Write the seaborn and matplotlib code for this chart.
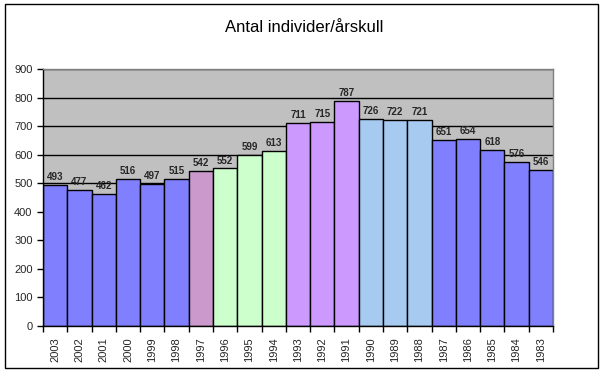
import numpy as np
import pandas as pd
import matplotlib
matplotlib.use('Agg')
import matplotlib.pyplot as plt
import matplotlib.patches as mpatches
import seaborn as sns

#Data
years = ['2003', '2002', '2001', '2000', '1999', '1998', '1997', '1996', '1995', '1994', '1993',
         '1992', '1991', '1990', '1989', '1988', '1987', '1986', '1985', '1984', '1983']
counts = [493, 477, 462, 516, 497, 515, 542, 552, 599, 613, 711,
          715, 787, 726, 722, 721, 651, 654, 618, 576, 546]
bar_colors = ['#8080FF'] * 6 + ['#CC99CC'] + ['#CCFFCC'] * 3 + ['#CC99FF'] * 3 + \
             ['#A6CAF0'] * 3 + ['#8080FF'] * 5
y_ticks = [0, 100, 200, 300, 400, 500, 600, 700, 800, 900]
title = 'Antal individer/årskull'

df = pd.DataFrame({'year': years, 'count': counts})

sns.set_style('white')
plt.rcParams['font.family'] = ['Liberation Sans', 'DejaVu Sans']

fig = plt.figure(figsize=(6.07, 3.75), dpi=100)
ax = fig.add_axes([43/607, 1 - 326/375, 510/607, 257/375])

#Gray plot area with black gridlines behind the bars
ax.set_facecolor('#C0C0C0')
ax.set_axisbelow(True)
ax.yaxis.grid(True, color='black', lw=1)

sns.barplot(data=df, x='year', y='count', hue='year', order=years, hue_order=years,
            palette=bar_colors, legend=False, width=1.0, saturation=1,
            edgecolor='black', linewidth=1, ax=ax)

#Value labels above each bar
for i, v in enumerate(counts):
    ax.text(i, v + 10, str(v), ha='center', va='bottom', fontsize=7, fontweight='bold')

ax.set_ylim(0, 900)
ax.set_xlim(-0.5, len(years) - 0.5)
ax.set_yticks(y_ticks)
ax.tick_params(axis='y', labelsize=8, length=4, width=1, direction='out', color='black', left=True)

#Category ticks sit between bars, like Excel
ax.set_xticks(np.arange(len(years)))
ax.set_xticklabels(years, rotation=90, fontsize=8)
ax.set_xticks(np.arange(len(years) + 1) - 0.5, minor=True)
ax.tick_params(axis='x', which='major', length=0, pad=8)
ax.tick_params(axis='x', which='minor', length=4, width=1, color='black', bottom=True)
ax.set_xlabel('')
ax.set_ylabel('')

for side in ['top', 'right']:
    ax.spines[side].set_color('#808080')
    ax.spines[side].set_linewidth(1)
for side in ['left', 'bottom']:
    ax.spines[side].set_color('black')
    ax.spines[side].set_linewidth(1)

fig.text(304/607, 1 - 27/375, title, ha='center', va='center', fontsize=12, color='black')

#Outer chart border
fig.patches.append(mpatches.Rectangle((5/607, 1 - 368/375), 593/607, 364/375,
                                      transform=fig.transFigure, fill=False,
                                      edgecolor='black', lw=1))

fig.savefig('out.png', dpi=100)
